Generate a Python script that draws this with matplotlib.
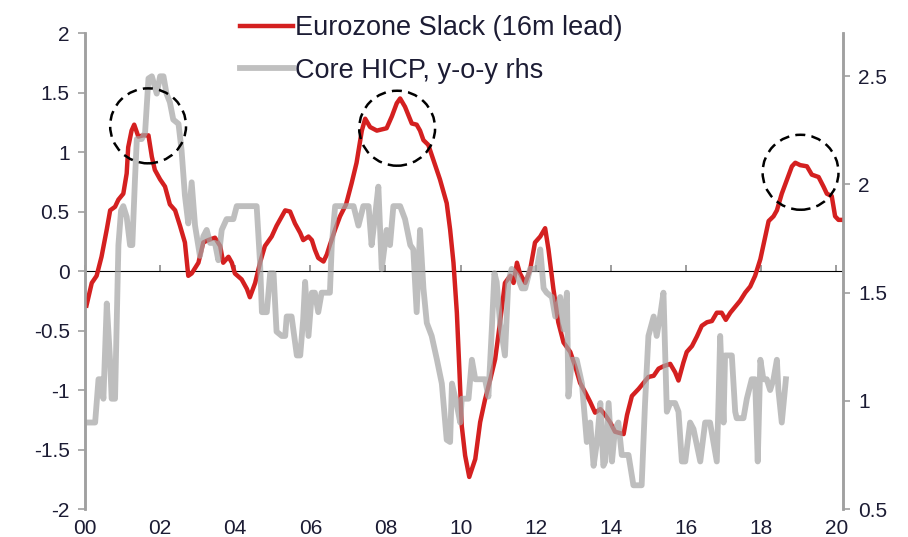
import matplotlib
matplotlib.use("Agg")
import matplotlib.pyplot as plt
from matplotlib.patches import Ellipse

plt.rcParams['font.family'] = ['Liberation Sans', 'DejaVu Sans']

# years since 2000 / values
slack_t = [0.04, 0.18, 0.31, 0.44, 0.58, 0.67, 0.80, 0.89, 1.02, 1.11, 1.15, 1.24, 1.31, 1.42,
           1.55, 1.69, 1.78, 1.86, 2.00, 2.13, 2.26, 2.40, 2.53, 2.66, 2.75, 2.84, 3.02, 3.15,
           3.28, 3.46, 3.60, 3.68, 3.82, 3.91, 3.99, 4.17, 4.31, 4.39, 4.53, 4.66, 4.79, 4.97,
           5.10, 5.24, 5.33, 5.46, 5.59, 5.73, 5.81, 5.95, 6.04, 6.12, 6.21, 6.35, 6.44, 6.52,
           6.66, 6.79, 6.95, 7.10, 7.23, 7.37, 7.46, 7.59, 7.77, 8.03, 8.17, 8.30, 8.39, 8.52,
           8.70, 8.83, 8.92, 9.01, 9.14, 9.28, 9.45, 9.63, 9.72, 9.81, 9.90, 9.97, 10.03, 10.12,
           10.23, 10.39, 10.52, 10.65, 10.79, 10.92, 11.05, 11.18, 11.32, 11.41, 11.50, 11.58,
           11.72, 11.85, 11.98, 12.12, 12.25, 12.34, 12.47, 12.60, 12.74, 12.92, 13.05, 13.18,
           13.32, 13.45, 13.58, 13.72, 13.85, 13.98, 14.11, 14.34, 14.43, 14.56, 14.74, 14.87,
           15.00, 15.14, 15.27, 15.40, 15.58, 15.71, 15.80, 15.93, 16.02, 16.16, 16.29, 16.42,
           16.56, 16.69, 16.82, 16.95, 17.06, 17.18, 17.31, 17.44, 17.58, 17.71, 17.84, 17.98,
           18.11, 18.20, 18.33, 18.42, 18.55, 18.69, 18.82, 18.91, 19.04, 19.22, 19.35, 19.53,
           19.66, 19.75, 19.88, 19.97, 20.06, 20.15]
slack_v = [-0.29, -0.10, -0.04, 0.12, 0.35, 0.51, 0.54, 0.60, 0.65, 0.82, 1.04, 1.18, 1.23, 1.13,
           1.14, 1.14, 0.96, 0.85, 0.77, 0.71, 0.56, 0.51, 0.38, 0.24, -0.04, -0.02, 0.07, 0.24,
           0.26, 0.28, 0.21, 0.07, 0.12, 0.07, -0.02, -0.07, -0.15, -0.22, -0.10, 0.07, 0.21, 0.29,
           0.38, 0.46, 0.51, 0.50, 0.40, 0.32, 0.26, 0.29, 0.26, 0.18, 0.11, 0.08, 0.14, 0.22,
           0.35, 0.46, 0.56, 0.74, 0.91, 1.18, 1.28, 1.21, 1.18, 1.20, 1.30, 1.41, 1.45, 1.38,
           1.24, 1.23, 1.18, 1.10, 1.06, 0.93, 0.77, 0.57, 0.35, 0.07, -0.35, -0.85, -1.30, -1.55,
           -1.73, -1.58, -1.27, -1.08, -0.91, -0.74, -0.43, -0.10, -0.04, -0.10, 0.07, -0.02,
           -0.10, 0.01, 0.24, 0.29, 0.36, 0.18, -0.15, -0.43, -0.60, -0.68, -0.80, -0.94,
           -1.02, -1.10, -1.19, -1.16, -1.21, -1.27, -1.35, -1.37, -1.21, -1.05, -0.99, -0.94,
           -0.89, -0.88, -0.82, -0.80, -0.78, -0.85, -0.92, -0.77, -0.68, -0.63, -0.55, -0.46,
           -0.43, -0.42, -0.35, -0.35, -0.41, -0.35, -0.30, -0.25, -0.18, -0.13, -0.04, 0.10,
           0.29, 0.42, 0.46, 0.51, 0.65, 0.77, 0.88, 0.91, 0.89, 0.88, 0.81, 0.79,
           0.71, 0.65, 0.63, 0.46, 0.43, 0.43]

hicp_t = [0.00, 0.27, 0.36, 0.44, 0.49, 0.58, 0.67, 0.71, 0.80, 0.89, 0.96, 1.02, 1.11, 1.20,
          1.26, 1.33, 1.38, 1.51, 1.60, 1.69, 1.78, 1.91, 2.00, 2.09, 2.17, 2.26, 2.35, 2.49,
          2.57, 2.66, 2.75, 2.84, 2.93, 3.06, 3.15, 3.24, 3.33, 3.46, 3.55, 3.64, 3.77, 3.95,
          4.04, 4.17, 4.44, 4.57, 4.66, 4.71, 4.84, 4.93, 5.02, 5.10, 5.24, 5.33, 5.37, 5.50,
          5.64, 5.73, 5.81, 5.86, 5.95, 6.04, 6.12, 6.21, 6.30, 6.52, 6.57, 6.66, 6.79, 7.15,
          7.28, 7.41, 7.55, 7.63, 7.72, 7.81, 7.90, 8.03, 8.12, 8.21, 8.39, 8.52, 8.66, 8.74,
          8.83, 8.92, 9.01, 9.10, 9.23, 9.37, 9.50, 9.63, 9.72, 9.77, 9.90, 9.99, 10.03, 10.21,
          10.30, 10.39, 10.65, 10.74, 10.83, 10.90, 10.96, 11.05, 11.18, 11.27, 11.36, 11.50,
          11.63, 11.72, 11.85, 12.03, 12.12, 12.21, 12.29, 12.43, 12.52, 12.65, 12.74, 12.83,
          12.87, 12.96, 13.09, 13.23, 13.36, 13.45, 13.54, 13.63, 13.72, 13.80, 13.85, 13.94,
          14.03, 14.11, 14.20, 14.29, 14.47, 14.60, 14.82, 14.91, 15.00, 15.14, 15.22, 15.31,
          15.40, 15.49, 15.58, 15.71, 15.80, 15.89, 15.98, 16.11, 16.20, 16.38, 16.51, 16.64,
          16.73, 16.82, 16.87, 16.91, 17.00, 17.04, 17.22, 17.31, 17.35, 17.53, 17.62, 17.75,
          17.84, 17.91, 17.98, 18.06, 18.15, 18.24, 18.33, 18.42, 18.46, 18.55, 18.66]
hicp_v = [0.90, 0.90, 1.10, 1.10, 1.01, 1.45, 1.18, 1.01, 1.01, 1.72, 1.88, 1.90, 1.85, 1.72,
          1.72, 2.02, 2.21, 2.21, 2.24, 2.49, 2.50, 2.42, 2.50, 2.50, 2.42, 2.38, 2.30, 2.28,
          2.16, 1.95, 1.82, 2.01, 1.81, 1.67, 1.76, 1.79, 1.73, 1.73, 1.65, 1.79, 1.84, 1.84,
          1.90, 1.90, 1.90, 1.90, 1.64, 1.41, 1.41, 1.59, 1.59, 1.32, 1.30, 1.30, 1.39, 1.39,
          1.21, 1.21, 1.38, 1.55, 1.30, 1.50, 1.50, 1.41, 1.50, 1.50, 1.72, 1.90, 1.90, 1.90,
          1.81, 1.90, 1.90, 1.72, 1.85, 1.99, 1.61, 1.79, 1.72, 1.90, 1.90, 1.84, 1.72, 1.70,
          1.41, 1.79, 1.52, 1.36, 1.30, 1.19, 1.08, 0.82, 0.81, 1.08, 0.98, 0.90, 1.01, 1.01,
          1.19, 1.10, 1.10, 1.02, 1.33, 1.59, 1.55, 1.36, 1.21, 1.55, 1.61, 1.58,
          1.52, 1.52, 1.61, 1.61, 1.70, 1.52, 1.50, 1.48, 1.39, 1.48, 1.33, 1.50,
          1.02, 1.19, 1.19, 1.08, 0.81, 0.90, 0.70, 0.81, 0.99, 0.70, 0.72, 0.99,
          0.72, 0.87, 0.90, 0.75, 0.75, 0.61, 0.61, 0.99, 1.30, 1.39, 1.30, 1.39,
          1.50, 0.95, 0.99, 0.99, 0.95, 0.72, 0.72, 0.90, 0.87, 0.72, 0.90, 0.90,
          0.81, 0.72, 1.02, 1.30, 0.90, 1.21, 1.21, 0.95, 0.92, 0.92, 1.01, 1.10,
          1.10, 0.72, 1.19, 1.10, 1.10, 1.05, 1.10, 1.19, 1.05, 0.90, 1.10]

year_ticks = [0, 2, 4, 6, 8, 10, 12, 14, 16, 18, 20]
year_labels = ['00', '02', '04', '06', '08', '10', '12', '14', '16', '18', '20']
left_ticks = [-2, -1.5, -1, -0.5, 0, 0.5, 1, 1.5, 2]
left_labels = ['-2', '-1.5', '-1', '-0.5', '0', '0.5', '1', '1.5', '2']
right_ticks = [0.5, 1, 1.5, 2, 2.5]
right_labels = ['0.5', '1', '1.5', '2', '2.5']
# highlighted peaks (centre year, centre value)
peaks = [(1.68, 1.22), (8.31, 1.20), (19.05, 0.83)]

red = '#d42020'
grey = '#a6a6a6'
axis_grey = '#a0a0a0'
txt = '#1c1c34'

fig = plt.figure(figsize=(9.08, 5.37), dpi=100)
ax = fig.add_axes([0.0936, 0.052, 0.8344, 0.8865])
ax2 = ax.twinx()

l1, = ax.plot(slack_t, slack_v, color=red, lw=3.2, solid_joinstyle='round', zorder=3)
l2, = ax2.plot(hicp_t, hicp_v, color=grey, lw=4.2, alpha=0.72, zorder=2)

ax.set_xlim(0, 20.17)
ax.set_ylim(-2, 2)
ax2.set_ylim(0.5, 2.70)

ax.set_xticks(year_ticks)
ax.set_xticklabels(year_labels)
ax.set_yticks(left_ticks)
ax.set_yticklabels(left_labels)
ax2.set_yticks(right_ticks)
ax2.set_yticklabels(right_labels)

for a in (ax, ax2):
    a.spines['top'].set_visible(False)
    a.spines['bottom'].set_visible(False)
    a.spines['left'].set_color(axis_grey)
    a.spines['right'].set_color(axis_grey)
    a.spines['left'].set_linewidth(1.8)
    a.spines['right'].set_linewidth(1.8)
ax.tick_params(axis='x', length=0, pad=7.5, labelsize=15, colors=txt)
ax.tick_params(axis='y', length=5, width=1.2, color=axis_grey, labelsize=15,
               labelcolor=txt, pad=6)
ax2.tick_params(axis='y', length=5, width=1.2, color=axis_grey, labelsize=15,
                labelcolor=txt, pad=6)

# zero line carrying the year tick marks
zero_ax = ax.secondary_xaxis(0.5)
zero_ax.set_xticks(year_ticks)
zero_ax.set_xticklabels([])
zero_ax.spines['bottom'].set_color('#8c8c8c')
zero_ax.spines['bottom'].set_linewidth(1.2)
zero_ax.tick_params(axis='x', length=4, width=1.2, color='#8c8c8c', direction='out')

for cx, cy in peaks:
    e = Ellipse((cx, cy), 2.02, 0.63, fill=False, edgecolor='black', lw=1.8,
                linestyle=(0, (4, 2.5)), zorder=5)
    ax2.add_patch(e)
    e.set_transform(ax.transData)

leg = fig.legend([l1, l2], ['Eurozone Slack (16m lead)', 'Core HICP, y-o-y rhs'],
                 loc='upper left', bbox_to_anchor=(240 / 908, 1 - 15 / 537),
                 frameon=False, fontsize=19.5, handlelength=1.95, handletextpad=0.08,
                 labelspacing=0.62, borderpad=0, borderaxespad=0)
for t in leg.get_texts():
    t.set_color(txt)
leg.legend_handles[1].set_alpha(1)
leg.legend_handles[1].set_color('#c0c0c0')

fig.savefig('out.png', dpi=100)
